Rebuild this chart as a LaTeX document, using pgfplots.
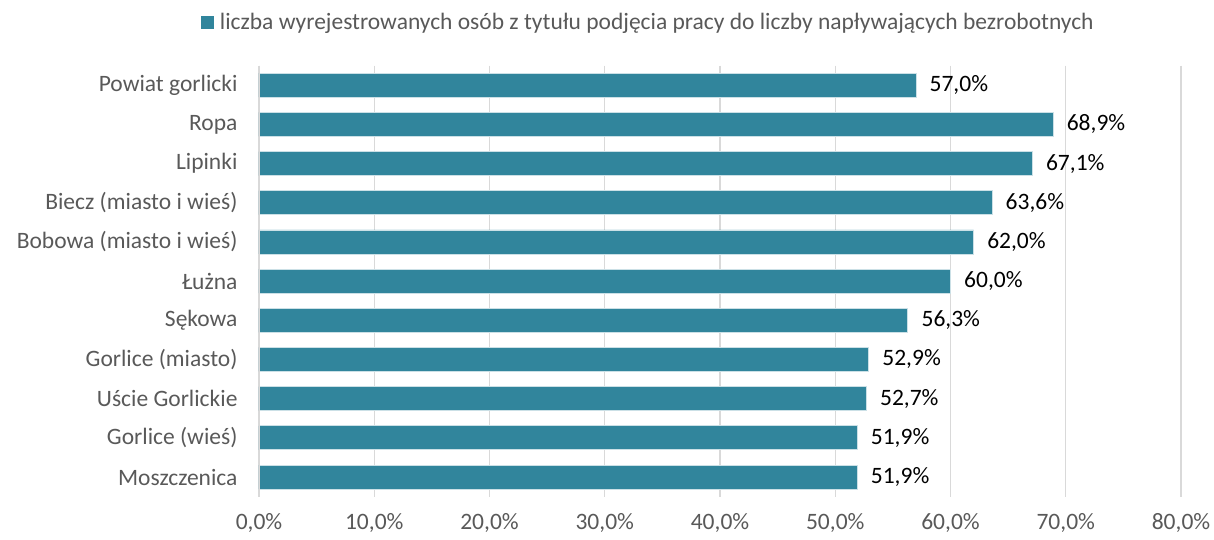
\documentclass[border=0pt]{standalone}
\usepackage{fontspec}
\setmainfont{Carlito}
\usepackage{pgfplots}
\pgfplotsset{compat=1.18}
\definecolor{barc}{HTML}{31859C}
\definecolor{txtc}{HTML}{595959}
\definecolor{gridc}{HTML}{D9D9D9}
\begin{document}
\begin{tikzpicture}
\begin{axis}[
  scale only axis,
  width=922pt, height=431pt,
  xbar, bar width=24pt,
  xmin=0, xmax=80,
  ymin=-0.5, ymax=10.5,
  y dir=reverse,
  xtick={0,10,...,80},
  ytick={0,...,10},
  yticklabels={Powiat gorlicki,Ropa,Lipinki,Biecz (miasto i wieś),Bobowa (miasto i wieś),Łużna,Sękowa,Gorlice (miasto),Uście Gorlickie,Gorlice (wieś),Moszczenica},
  xticklabel={\pgfmathprintnumber[fixed,fixed zerofill,precision=1,use comma]{\tick}\%},
  /pgf/number format/assume math mode=true,
  tick label style={font=\fontsize{23.5}{28}\selectfont, text=txtc},
  yticklabel style={xshift=-18pt},
  xticklabel style={yshift=-13pt},
  major tick length=0pt,
  xmajorgrids, ymajorgrids=false,
  major grid style={draw=gridc, line width=1.2pt},
  axis line style={draw=none},
  nodes near coords={\pgfmathprintnumber[fixed,fixed zerofill,precision=1,use comma]{\pgfplotspointmeta}\%},
  point meta=x,
  every node near coord/.append style={font=\fontsize{23.5}{28}\selectfont, text=black, xshift=10pt},
  legend style={at={(-0.063,1.1007)}, anchor=west, draw=none, fill=none,
    font=\fontsize{23.5}{28}\selectfont, text=txtc, inner sep=0pt},
  legend image code/.code={\fill[barc] (0pt,-6pt) rectangle (12pt,6pt);},
]
\addplot[fill=barc, draw=white!75!barc, line width=0.8pt] coordinates {
  (57.0,0) (68.9,1) (67.1,2) (63.6,3) (62.0,4) (60.0,5) (56.3,6) (52.9,7) (52.7,8) (51.9,9) (51.9,10)
};
\legend{\hspace{4pt}liczba wyrejestrowanych osób z tytułu podjęcia pracy do liczby napływających bezrobotnych}
\draw[draw=gridc, line width=1.2pt] (axis cs:0,-0.5) -- (axis cs:0,10.5);
\end{axis}
\pgfresetboundingbox
\path (-259pt,-42.4pt) rectangle (955pt,496.6pt);
\end{tikzpicture}
\end{document}
